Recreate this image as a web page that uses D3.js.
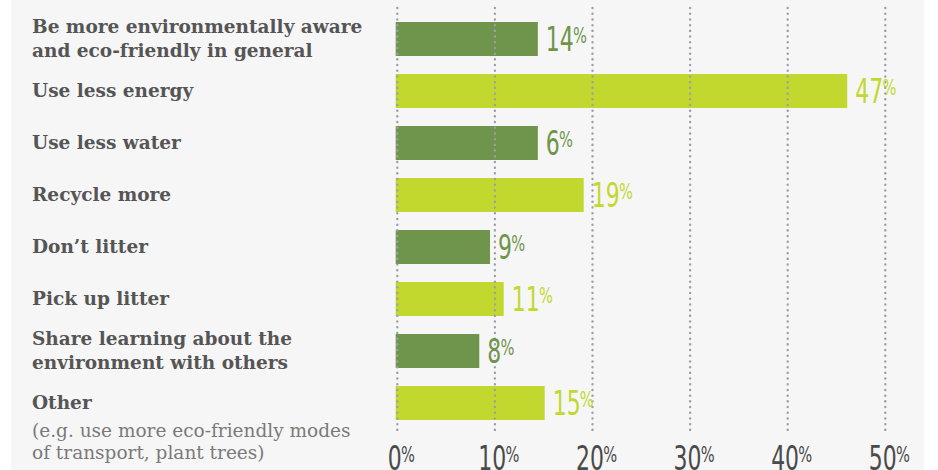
<!DOCTYPE html>
<html>
<head>
<meta charset="utf-8">
<script src="https://cdn.jsdelivr.net/npm/d3@7"></script>
<style>
  html, body { margin: 0; padding: 0; background: #fff; }
  svg { display: block; }
</style>
</head>
<body>
<div id="chart"></div>
<script>
// Survey answers, one entry per bar (label lines, bar length, printed value).
const categories = [
  ['Be more environmentally aware', 'and eco-friendly in general'],
  ['Use less energy'],
  ['Use less water'],
  ['Recycle more'],
  ['Don’t litter'],
  ['Pick up litter'],
  ['Share learning about the', 'environment with others'],
  ['Other']
];
const notes = [null, null, null, null, null, null, null,
  ['(e.g. use more eco-friendly modes', 'of transport, plant trees)']];
// bar lengths as drawn in the source, and the figures printed beside them
const barValues = [14.4, 46.1, 14.4, 19.1, 9.5, 10.9, 8.4, 15.1];
const labelValues = [14, 47, 6, 19, 9, 11, 8, 15];
const tickValues = [0, 10, 20, 30, 40, 50];

const width = 938, height = 470;
const dark = '#6f944b', lime = '#c2d82e';

const svg = d3.select('#chart').append('svg')
    .attr('width', width)
    .attr('height', height);

svg.append('rect')
    .attr('x', 11).attr('y', 0)
    .attr('width', 913).attr('height', height)
    .attr('fill', '#f6f6f6');

const x = d3.scaleLinear().domain([0, 50]).range([397.3, 885.3]);
const y = d3.scaleBand()
    .domain(d3.range(categories.length))
    .range([22 - 9, 22 - 9 + 52 * categories.length])
    .paddingInner(18 / 52)
    .paddingOuter(9 / 52);

// bars
svg.append('g')
  .selectAll('rect')
  .data(barValues)
  .join('rect')
    .attr('x', x(0) - 1.6)
    .attr('y', (d, i) => y(i))
    .attr('width', d => x(d) - x(0) + 1.6)
    .attr('height', y.bandwidth())
    .attr('fill', (d, i) => i % 2 ? lime : dark);

// dotted gridlines sit on top of the bars
svg.append('g')
  .selectAll('line')
  .data(tickValues)
  .join('line')
    .attr('x1', d => x(d)).attr('x2', d => x(d))
    .attr('y1', 8).attr('y2', 433)
    .attr('stroke', '#9ca0a8')
    .attr('stroke-width', 2.4)
    .attr('stroke-linecap', 'round')
    .attr('stroke-dasharray', '0.1,5.6');

const narrow = '"Liberation Sans Narrow", "DejaVu Sans Condensed", Arial, sans-serif';

// value labels: number with a raised %
const vals = svg.append('g')
  .selectAll('text')
  .data(labelValues)
  .join('text')
    .attr('transform', (d, i) => `translate(${x(barValues[i]) + 8},${y(i) + y.bandwidth() / 2 + 12}) scale(0.74,1)`)
    .attr('font-family', narrow)
    .attr('fill', (d, i) => i % 2 ? lime : dark);
vals.append('tspan').attr('font-size', 33).text(d => d);
vals.append('tspan').attr('font-size', 22).attr('dy', -8).attr('dx', -1).text('%');

// axis tick labels along the bottom (cut by the frame, as in the source)
const ticks = svg.append('g')
  .selectAll('text')
  .data(tickValues)
  .join('text')
    .attr('transform', d => `translate(${x(d) + 4},470) scale(0.74,1)`)
    .attr('text-anchor', 'middle')
    .attr('font-family', narrow)
    .attr('fill', '#4a4a4a');
ticks.append('tspan').attr('font-size', 33).text(d => d);
ticks.append('tspan').attr('font-size', 22).attr('dy', -8).attr('dx', -1).text('%');

// category labels
const serif = '"DejaVu Serif", "Liberation Serif", serif';
const lineH = 24;
const labels = svg.append('g')
  .selectAll('text')
  .data(categories)
  .join('text')
    .attr('x', 32)
    .attr('y', (d, i) => y(i) + y.bandwidth() / 2 + 6 - (d.length - 1) * lineH / 2)
    .attr('font-family', serif)
    .attr('font-weight', 'bold')
    .attr('font-size', 18.5)
    .attr('fill', '#555');
labels.selectAll('tspan')
  .data(d => d)
  .join('tspan')
    .attr('x', 32)
    .attr('dy', (d, i) => i ? lineH : 0)
    .text(d => d);

// grey note under "Other"
notes.forEach((n, i) => {
  if (!n) return;
  const t = svg.append('text')
      .attr('x', 32)
      .attr('y', y(i) + y.bandwidth() / 2 + 6 + 28)
      .attr('font-family', serif)
      .attr('font-size', 18.5)
      .attr('fill', '#7a7a7a');
  t.selectAll('tspan')
    .data(n)
    .join('tspan')
      .attr('x', 32)
      .attr('dy', (d, j) => j ? 22 : 0)
      .text(d => d);
});
</script>
</body>
</html>
